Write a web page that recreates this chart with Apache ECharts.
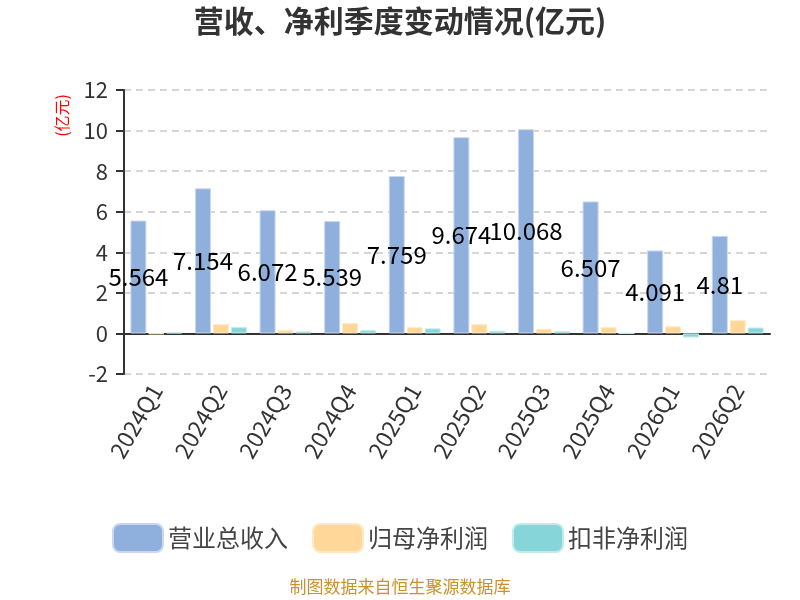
<!DOCTYPE html>
<html>
<head>
<meta charset="utf-8">
<script src="https://cdn.jsdelivr.net/npm/echarts@6/dist/echarts.min.js"></script>
<style>
  html, body { margin: 0; padding: 0; background: #fff; }
  #main { width: 800px; height: 600px; }
</style>
</head>
<body>
<div id="main"></div>
<script>
  var quarters = ['2024Q1', '2024Q2', '2024Q3', '2024Q4', '2025Q1', '2025Q2', '2025Q3', '2025Q4', '2026Q1', '2026Q2'];
  var revenue = [5.564, 7.154, 6.072, 5.539, 7.759, 9.674, 10.068, 6.507, 4.091, 4.81];
  var netProfit = [-0.03, 0.46, 0.16, 0.51, 0.31, 0.46, 0.23, 0.31, 0.35, 0.65];
  var deductedProfit = [0.05, 0.31, 0.1, 0.16, 0.25, 0.13, 0.11, 0.01, -0.2, 0.29];
  var seriesNames = ['营业总收入', '归母净利润', '扣非净利润'];

  var font = '"Noto Sans CJK SC", "Noto Sans", sans-serif';
  var myChart = echarts.init(document.getElementById('main'));

  var option = {
    textStyle: { fontFamily: font },
    color: ['#8FAFDC', '#FFD899', '#86D5D8'],
    title: {
      text: '营收、净利季度变动情况(亿元)',
      left: 'center',
      top: 1,
      textStyle: { fontSize: 30, fontWeight: 'bold', color: '#333', fontFamily: font }
    },
    legend: {
      data: seriesNames,
      top: 518,
      itemWidth: 50,
      itemHeight: 28,
      itemGap: 24,
      textStyle: { fontSize: 24, color: '#444', fontFamily: font }
    },
    grid: { left: 124, right: 30, top: 90, bottom: 226 },
    graphic: [
      {
        type: 'text',
        left: 54,
        top: 94,
        rotation: Math.PI / 2,
        style: { text: '(亿元)', fill: '#ff0000', fontSize: 16, fontFamily: font }
      },
      {
        type: 'text',
        left: 'center',
        top: 578,
        style: { text: '制图数据来自恒生聚源数据库', fill: '#C8922E', fontSize: 17, fontFamily: font }
      }
    ],
    xAxis: {
      type: 'category',
      data: quarters,
      axisLine: { lineStyle: { color: '#333', width: 2 } },
      axisTick: { length: 8, lineStyle: { color: '#333', width: 2 } },
      axisLabel: { rotate: 60, fontSize: 23, color: '#333', margin: 12, fontFamily: font }
    },
    yAxis: {
      type: 'value',
      min: -2,
      max: 12,
      interval: 2,
      axisLine: { show: true, lineStyle: { color: '#333', width: 2 } },
      axisTick: { show: true, length: 8, lineStyle: { width: 2 } },
      axisLabel: { fontSize: 22, color: '#333', margin: 16, fontFamily: font },
      splitLine: { lineStyle: { type: [7, 5], color: '#c8c8c8', width: 1.5 } }
    },
    series: [
      {
        name: seriesNames[0],
        type: 'bar',
        data: revenue,
        barWidth: 16,
        barGap: '12%',
        itemStyle: { borderColor: '#c9d8ee', borderWidth: 1 },
        label: { show: true, position: 'inside', color: '#000', fontSize: 24, fontFamily: font }
      },
      {
        name: seriesNames[1],
        type: 'bar',
        data: netProfit,
        barWidth: 16,
        barGap: '12%',
        itemStyle: { borderColor: '#ffe9c4', borderWidth: 1 }
      },
      {
        name: seriesNames[2],
        type: 'bar',
        data: deductedProfit,
        barWidth: 16,
        barGap: '12%',
        itemStyle: { borderColor: '#c3ebec', borderWidth: 1 }
      }
    ]
  };
  myChart.setOption(option);
</script>
</body>
</html>
